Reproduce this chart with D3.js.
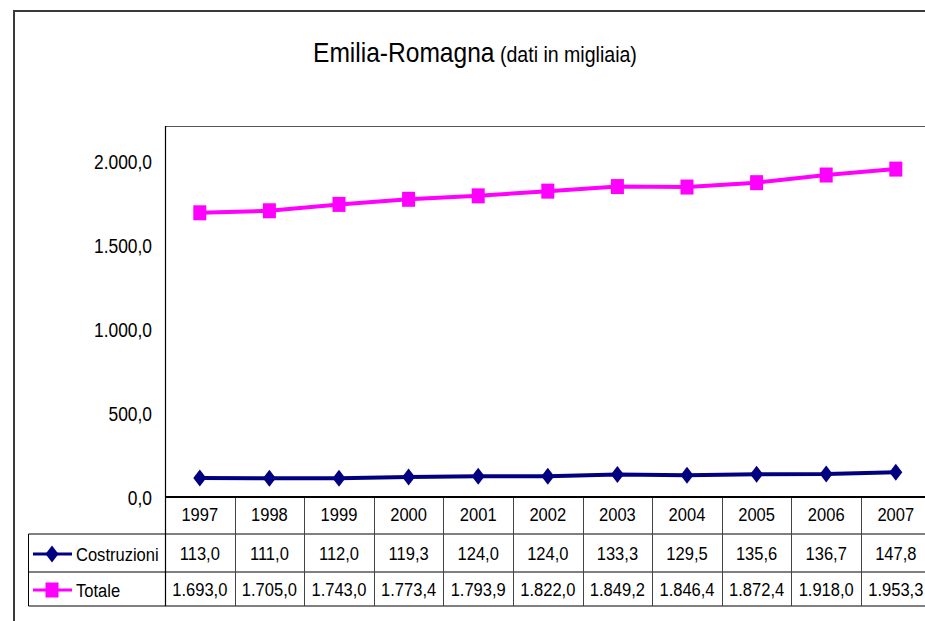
<!DOCTYPE html>
<html>
<head>
<meta charset="utf-8">
<script src="https://cdn.jsdelivr.net/npm/d3@7"></script>
<style>
  body { margin: 0; background: #fff; }
  svg { display: block; }
  text { font-family: "Liberation Sans", Arial, sans-serif; fill: #000; }
</style>
</head>
<body>
<div id="chart"></div>
<script>
// data
var years = ["1997", "1998", "1999", "2000", "2001", "2002", "2003", "2004", "2005", "2006", "2007"];
var costruzioni = [113.0, 111.0, 112.0, 119.3, 124.0, 124.0, 133.3, 129.5, 135.6, 136.7, 147.8];
var totale = [1693.0, 1705.0, 1743.0, 1773.4, 1793.9, 1822.0, 1849.2, 1846.4, 1872.4, 1918.0, 1953.3];
var yTicks = [0, 500, 1000, 1500, 2000];
var seriesNames = ["Costruzioni", "Totale"];

var w = 925, h = 621;
var plotLeft = 165, plotTop = 126, plotBottom = 497;
var colW = 69.6;
var sx = 0.87; // text is a bit condensed in the original

var it = d3.formatLocale({decimal: ",", thousands: ".", grouping: [3], currency: ["€", ""]});
var fmt = it.format(",.1f");

var svg = d3.select("#chart").append("svg")
  .attr("width", w)
  .attr("height", h);

// outer frame (runs off the right and bottom edge)
svg.append("rect")
  .attr("x", 14).attr("y", 11)
  .attr("width", 1000).attr("height", 700)
  .attr("fill", "none")
  .attr("stroke", "#3a3a3a")
  .attr("stroke-width", 2);

// title
var title = svg.append("text")
  .attr("transform", "translate(313,62) scale(0.91,1)")
  .style("font-size", "27px");
title.append("tspan").text("Emilia-Romagna");
title.append("tspan").style("font-size", "21.5px").text(" (dati in migliaia)");

var x = d3.scaleBand()
  .domain(years)
  .range([plotLeft, plotLeft + colW * years.length]);

var y = d3.scaleLinear()
  .domain([0, 2210])
  .range([plotBottom, plotTop]);

// plot area frame
svg.append("line").attr("x1", plotLeft).attr("x2", w).attr("y1", plotTop + 0.5).attr("y2", plotTop + 0.5)
  .attr("stroke", "#555").attr("stroke-width", 1);
svg.append("line").attr("x1", plotLeft + 0.5).attr("x2", plotLeft + 0.5).attr("y1", plotTop).attr("y2", 606)
  .attr("stroke", "#000").attr("stroke-width", 1.2);

// y axis labels
var yAxis = d3.axisLeft(y)
  .tickValues(yTicks)
  .tickSize(0)
  .tickFormat(fmt);
var ga = svg.append("g")
  .attr("transform", "translate(" + plotLeft + ",0)")
  .call(yAxis);
ga.select(".domain").remove();
ga.attr("font-family", null).attr("font-size", null);
ga.selectAll("text")
  .attr("x", -13 / sx)
  .attr("dy", "0.35em")
  .attr("transform", "scale(" + sx + ",1)")
  .style("font-size", "20px");

// data table
var rowTop = [497, 534, 572, 606];
var tbl = svg.append("g").attr("class", "table");

// horizontal rules
tbl.append("line").attr("x1", 28.5).attr("x2", w).attr("y1", rowTop[1]).attr("y2", rowTop[1]).attr("stroke", "#000");
tbl.append("line").attr("x1", 28.5).attr("x2", w).attr("y1", rowTop[2]).attr("y2", rowTop[2]).attr("stroke", "#000");
tbl.append("line").attr("x1", 28.5).attr("x2", w).attr("y1", rowTop[3]).attr("y2", rowTop[3]).attr("stroke", "#000");
tbl.append("line").attr("x1", 28.5).attr("x2", 28.5).attr("y1", rowTop[1]).attr("y2", rowTop[3]).attr("stroke", "#000");

// column dividers
tbl.selectAll(".div")
  .data(years.slice(1))
  .enter()
  .append("line")
  .attr("x1", (d) => Math.round(x(d)) + 0.5)
  .attr("x2", (d) => Math.round(x(d)) + 0.5)
  .attr("y1", rowTop[0])
  .attr("y2", rowTop[3])
  .attr("stroke", "#444");

function cellText(g, data, baseline) {
  g.selectAll(null)
    .data(data)
    .enter()
    .append("text")
    .attr("transform", (d, i) => "translate(" + (x(years[i]) + x.bandwidth() / 2) + "," + baseline + ") scale(" + sx + ",1)")
    .attr("text-anchor", "middle")
    .style("font-size", "19px")
    .text((d) => typeof d === "number" ? fmt(d) : d);
}
cellText(tbl, years, 521);
cellText(tbl, costruzioni, 560);
cellText(tbl, totale, 596);

// x axis line (thick)
svg.append("line").attr("x1", plotLeft).attr("x2", w).attr("y1", plotBottom).attr("y2", plotBottom)
  .attr("stroke", "#000").attr("stroke-width", 2);

// series
var series = [
  {name: seriesNames[0], values: costruzioni, color: "#000080", shape: "diamond", legendY: 554},
  {name: seriesNames[1], values: totale, color: "#ff00ff", shape: "square", legendY: 590}
];

function marker(sel, shape, color) {
  if (shape === "diamond") {
    sel.append("path").attr("d", "M0,-8.5L6.5,0L0,8.5L-6.5,0Z").attr("fill", color);
  } else {
    sel.append("rect").attr("x", -6.5).attr("y", -7.5).attr("width", 13).attr("height", 15).attr("fill", color);
  }
}

var line = d3.line()
  .x((d, i) => x(years[i]) + x.bandwidth() / 2)
  .y((d) => y(d));

series.forEach((s) => {
  svg.append("path")
    .datum(s.values)
    .attr("d", line)
    .attr("fill", "none")
    .attr("stroke", s.color)
    .attr("stroke-width", 4);

  svg.selectAll(null)
    .data(s.values)
    .enter()
    .append("g")
    .attr("transform", (d, i) => "translate(" + (x(years[i]) + x.bandwidth() / 2) + "," + y(d) + ")")
    .each(function() { marker(d3.select(this), s.shape, s.color); });

  // legend key in table
  svg.append("line")
    .attr("x1", 33).attr("x2", 72)
    .attr("y1", s.legendY).attr("y2", s.legendY)
    .attr("stroke", s.color).attr("stroke-width", 3);
  var k = svg.append("g").attr("transform", "translate(52," + s.legendY + ")");
  marker(k, s.shape, s.color);
  svg.append("text")
    .attr("transform", "translate(76," + (s.legendY + 7) + ") scale(" + sx + ",1)")
    .style("font-size", "19px")
    .text(s.name);
});
</script>
</body>
</html>
